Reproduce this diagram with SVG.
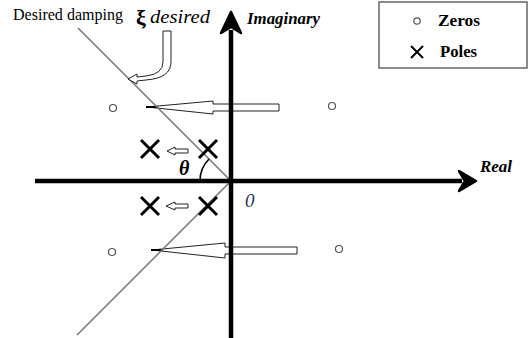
<svg xmlns="http://www.w3.org/2000/svg" width="532" height="338" viewBox="0 0 532 338">
<style>
.zero{fill:none;stroke:#555;stroke-width:1.2}
.pole{stroke:#000;stroke-width:3;stroke-linecap:butt}
.hollow{fill:#fff;stroke:#222;stroke-width:1}
.lbl{font-family:"Liberation Serif",serif;fill:#000}
</style>
<rect width="532" height="338" fill="#fff"/>
<g id="connectors">
  <g id="big-arrow-upper">
    <polygon class="hollow" points="279,104 213,104 213,101 147,107 213,114 213,111 279,111"/>
    <line x1="146" y1="107" x2="158" y2="107" stroke="#000" stroke-width="2"/>
  </g>
  <g id="big-arrow-lower">
    <polygon class="hollow" points="297,247 225,247 225,243 152,250 225,258 225,254 297,254"/>
    <line x1="151" y1="250" x2="163" y2="250" stroke="#000" stroke-width="2"/>
  </g>
  <polygon id="small-arrow-upper" class="hollow" points="188,149 175,149 175,147 167,151 175,155 175,153 188,153"/>
  <polygon id="small-arrow-lower" class="hollow" points="188,204 175,204 175,202 166,206 175,210 175,208 188,208"/>
  <path id="damping-line" d="M78,28 L231,181 L77,335" fill="none" stroke="#777" stroke-width="1.5"/>
  <path id="curved-arrow" class="hollow" d="M163,31 L171,31 L171,62 Q171,78 146,80 L137,81 L137,84 L128,79 L137,74 L137,77 L146,76 Q163,74 163,62 Z"/>
  <path id="theta-arc" d="M200,181 A31,31 0 0 1 209,159" fill="none" stroke="#000" stroke-width="1.6"/>
  <g id="imag-axis">
    <line x1="231" y1="30" x2="231" y2="338" stroke="#000" stroke-width="4.5"/>
    <path d="M231,12 L241,33 L231,27 L221,33 Z" fill="#000" stroke="#000" stroke-width="2.5" stroke-linejoin="round"/>
  </g>
  <g id="real-axis">
    <line x1="35" y1="181" x2="462" y2="181" stroke="#000" stroke-width="4.5"/>
    <path d="M476,181 L459,171 L465,181 L459,191 Z" fill="#000" stroke="#000" stroke-width="2.5" stroke-linejoin="round"/>
  </g>
</g>
<g id="zeros">
  <circle class="zero" cx="113" cy="108" r="3.5"/>
  <circle class="zero" cx="332" cy="106" r="3.5"/>
  <circle class="zero" cx="112" cy="252" r="3.5"/>
  <circle class="zero" cx="339" cy="249" r="3.5"/>
</g>
<g id="poles">
  <path class="pole" d="M141,140 L159,158 M159,140 L141,158"/>
  <path class="pole" d="M199,140 L217,158 M217,140 L199,158"/>
  <path class="pole" d="M141,197 L159,215 M159,197 L141,215"/>
  <path class="pole" d="M199,197 L217,215 M217,197 L199,215"/>
</g>
<g id="labels">
  <text class="lbl" x="13" y="20" font-size="17" textLength="110" lengthAdjust="spacingAndGlyphs">Desired damping</text>
  <text class="lbl" x="136" y="25" font-size="22" font-weight="bold">ξ</text>
  <text class="lbl" x="150" y="23" font-size="18" font-style="italic" textLength="60" lengthAdjust="spacingAndGlyphs">desired</text>
  <text class="lbl" x="247" y="24" font-size="16" font-weight="bold" font-style="italic" textLength="73" lengthAdjust="spacingAndGlyphs">Imaginary</text>
  <text class="lbl" x="480" y="172" font-size="16" font-weight="bold" font-style="italic" textLength="32" lengthAdjust="spacingAndGlyphs">Real</text>
  <text class="lbl" x="179" y="175" font-size="20" font-weight="bold" font-style="italic">θ</text>
  <text class="lbl" x="245" y="207" font-size="19" font-style="italic" style="fill:#2a2f55">0</text>
</g>
<g id="legend">
  <rect x="379" y="2" width="148" height="66" fill="#fff" stroke="#666" stroke-width="1.5"/>
  <circle class="zero" cx="417" cy="21" r="3.2"/>
  <text class="lbl" x="438" y="26" font-size="16" font-weight="bold" textLength="42" lengthAdjust="spacingAndGlyphs">Zeros</text>
  <path d="M411,46 L423,58 M423,46 L411,58" stroke="#000" stroke-width="2"/>
  <text class="lbl" x="440" y="57" font-size="16" font-weight="bold" textLength="37" lengthAdjust="spacingAndGlyphs">Poles</text>
</g>
</svg>
